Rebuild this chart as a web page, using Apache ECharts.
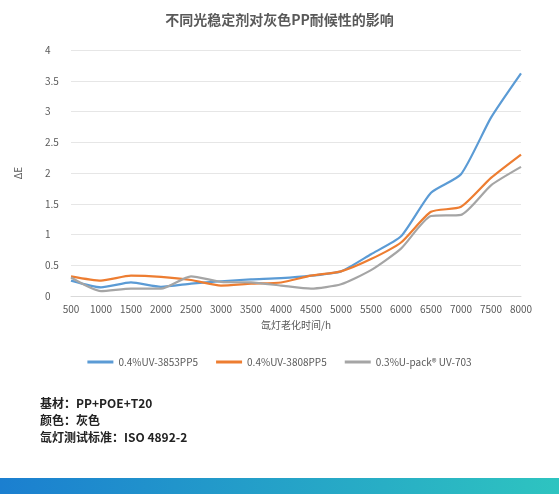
<!DOCTYPE html><html><head><meta charset="utf-8">
<script src="https://cdn.jsdelivr.net/npm/echarts@6/dist/echarts.min.js"></script>
<style>html,body{margin:0;padding:0;background:#fff}#c{width:559px;height:494px}</style></head>
<body><div id="c"></div><script>
const categories=['500','1000','1500','2000','2500','3000','3500','4000','4500','5000','5500','6000','6500','7000','7500','8000'];
const s3853=[0.25,0.14,0.22,0.15,0.2,0.24,0.27,0.29,0.33,0.4,0.68,0.97,1.68,1.98,2.9,3.62];
const s3808=[0.32,0.25,0.33,0.31,0.26,0.17,0.2,0.22,0.33,0.4,0.6,0.87,1.37,1.45,1.92,2.3];
const s703=[0.3,0.08,0.12,0.12,0.32,0.23,0.22,0.17,0.12,0.19,0.42,0.77,1.3,1.32,1.8,2.1];
const names=['0.4%UV-3853PP5','0.4%UV-3808PP5','0.3%U-pack® UV-703'];
const colors=['#5b9bd5','#ed7d31','#a5a5a5'];
const f='"Noto Sans CJK SC","Noto Sans",sans-serif';
const ch=echarts.init(document.getElementById('c'));
const mk=(n,d,i)=>({name:n,type:'line',data:d,smooth:0.2,symbol:'none',lineStyle:{width:2.2,color:colors[i]},itemStyle:{color:colors[i]}});
ch.setOption({
 animation:false,
 textStyle:{fontFamily:f},
 title:{text:'不同光稳定剂对灰色PP耐候性的影响',left:'center',top:8,textStyle:{fontSize:14,fontWeight:'bold',color:'#595959',fontFamily:f}},
 grid:{left:71,right:38,top:50,bottom:198},
 legend:{top:352,left:'center',itemWidth:26,itemHeight:3,icon:'rect',itemGap:18,textStyle:{fontSize:10,color:'#595959'}},
 xAxis:{type:'category',data:categories,boundaryGap:false,name:'氙灯老化时间/h',nameLocation:'middle',nameGap:24,nameTextStyle:{fontSize:10,color:'#595959'},
  axisLine:{lineStyle:{color:'#d9d9d9'}},axisTick:{show:false},axisLabel:{fontSize:10,color:'#595959'}},
 yAxis:{type:'value',min:0,max:4,interval:0.5,name:'ΔE',nameLocation:'middle',nameGap:48,nameTextStyle:{fontSize:10,color:'#595959'},
  axisLabel:{fontSize:10,color:'#595959',margin:26,align:'left'},splitLine:{lineStyle:{color:'#e6e6e6'}}},
 series:[mk(names[0],s3853,0),mk(names[1],s3808,1),mk(names[2],s703,2)],
 graphic:[
  {type:'text',left:40,top:397,style:{text:'基材：PP+POE+T20',font:'bold 12px '+f,fill:'#222'}},
  {type:'text',left:40,top:414,style:{text:'颜色：灰色',font:'bold 12px '+f,fill:'#222'}},
  {type:'text',left:40,top:431,style:{text:'氙灯测试标准：ISO 4892-2',font:'bold 12px '+f,fill:'#222'}},
  {type:'rect',left:0,top:478,shape:{width:559,height:16},style:{fill:new echarts.graphic.LinearGradient(0,0,1,0,[{offset:0,color:'#1b7fd0'},{offset:1,color:'#2ec4c0'}])}}
 ]
});
</script></body></html>
